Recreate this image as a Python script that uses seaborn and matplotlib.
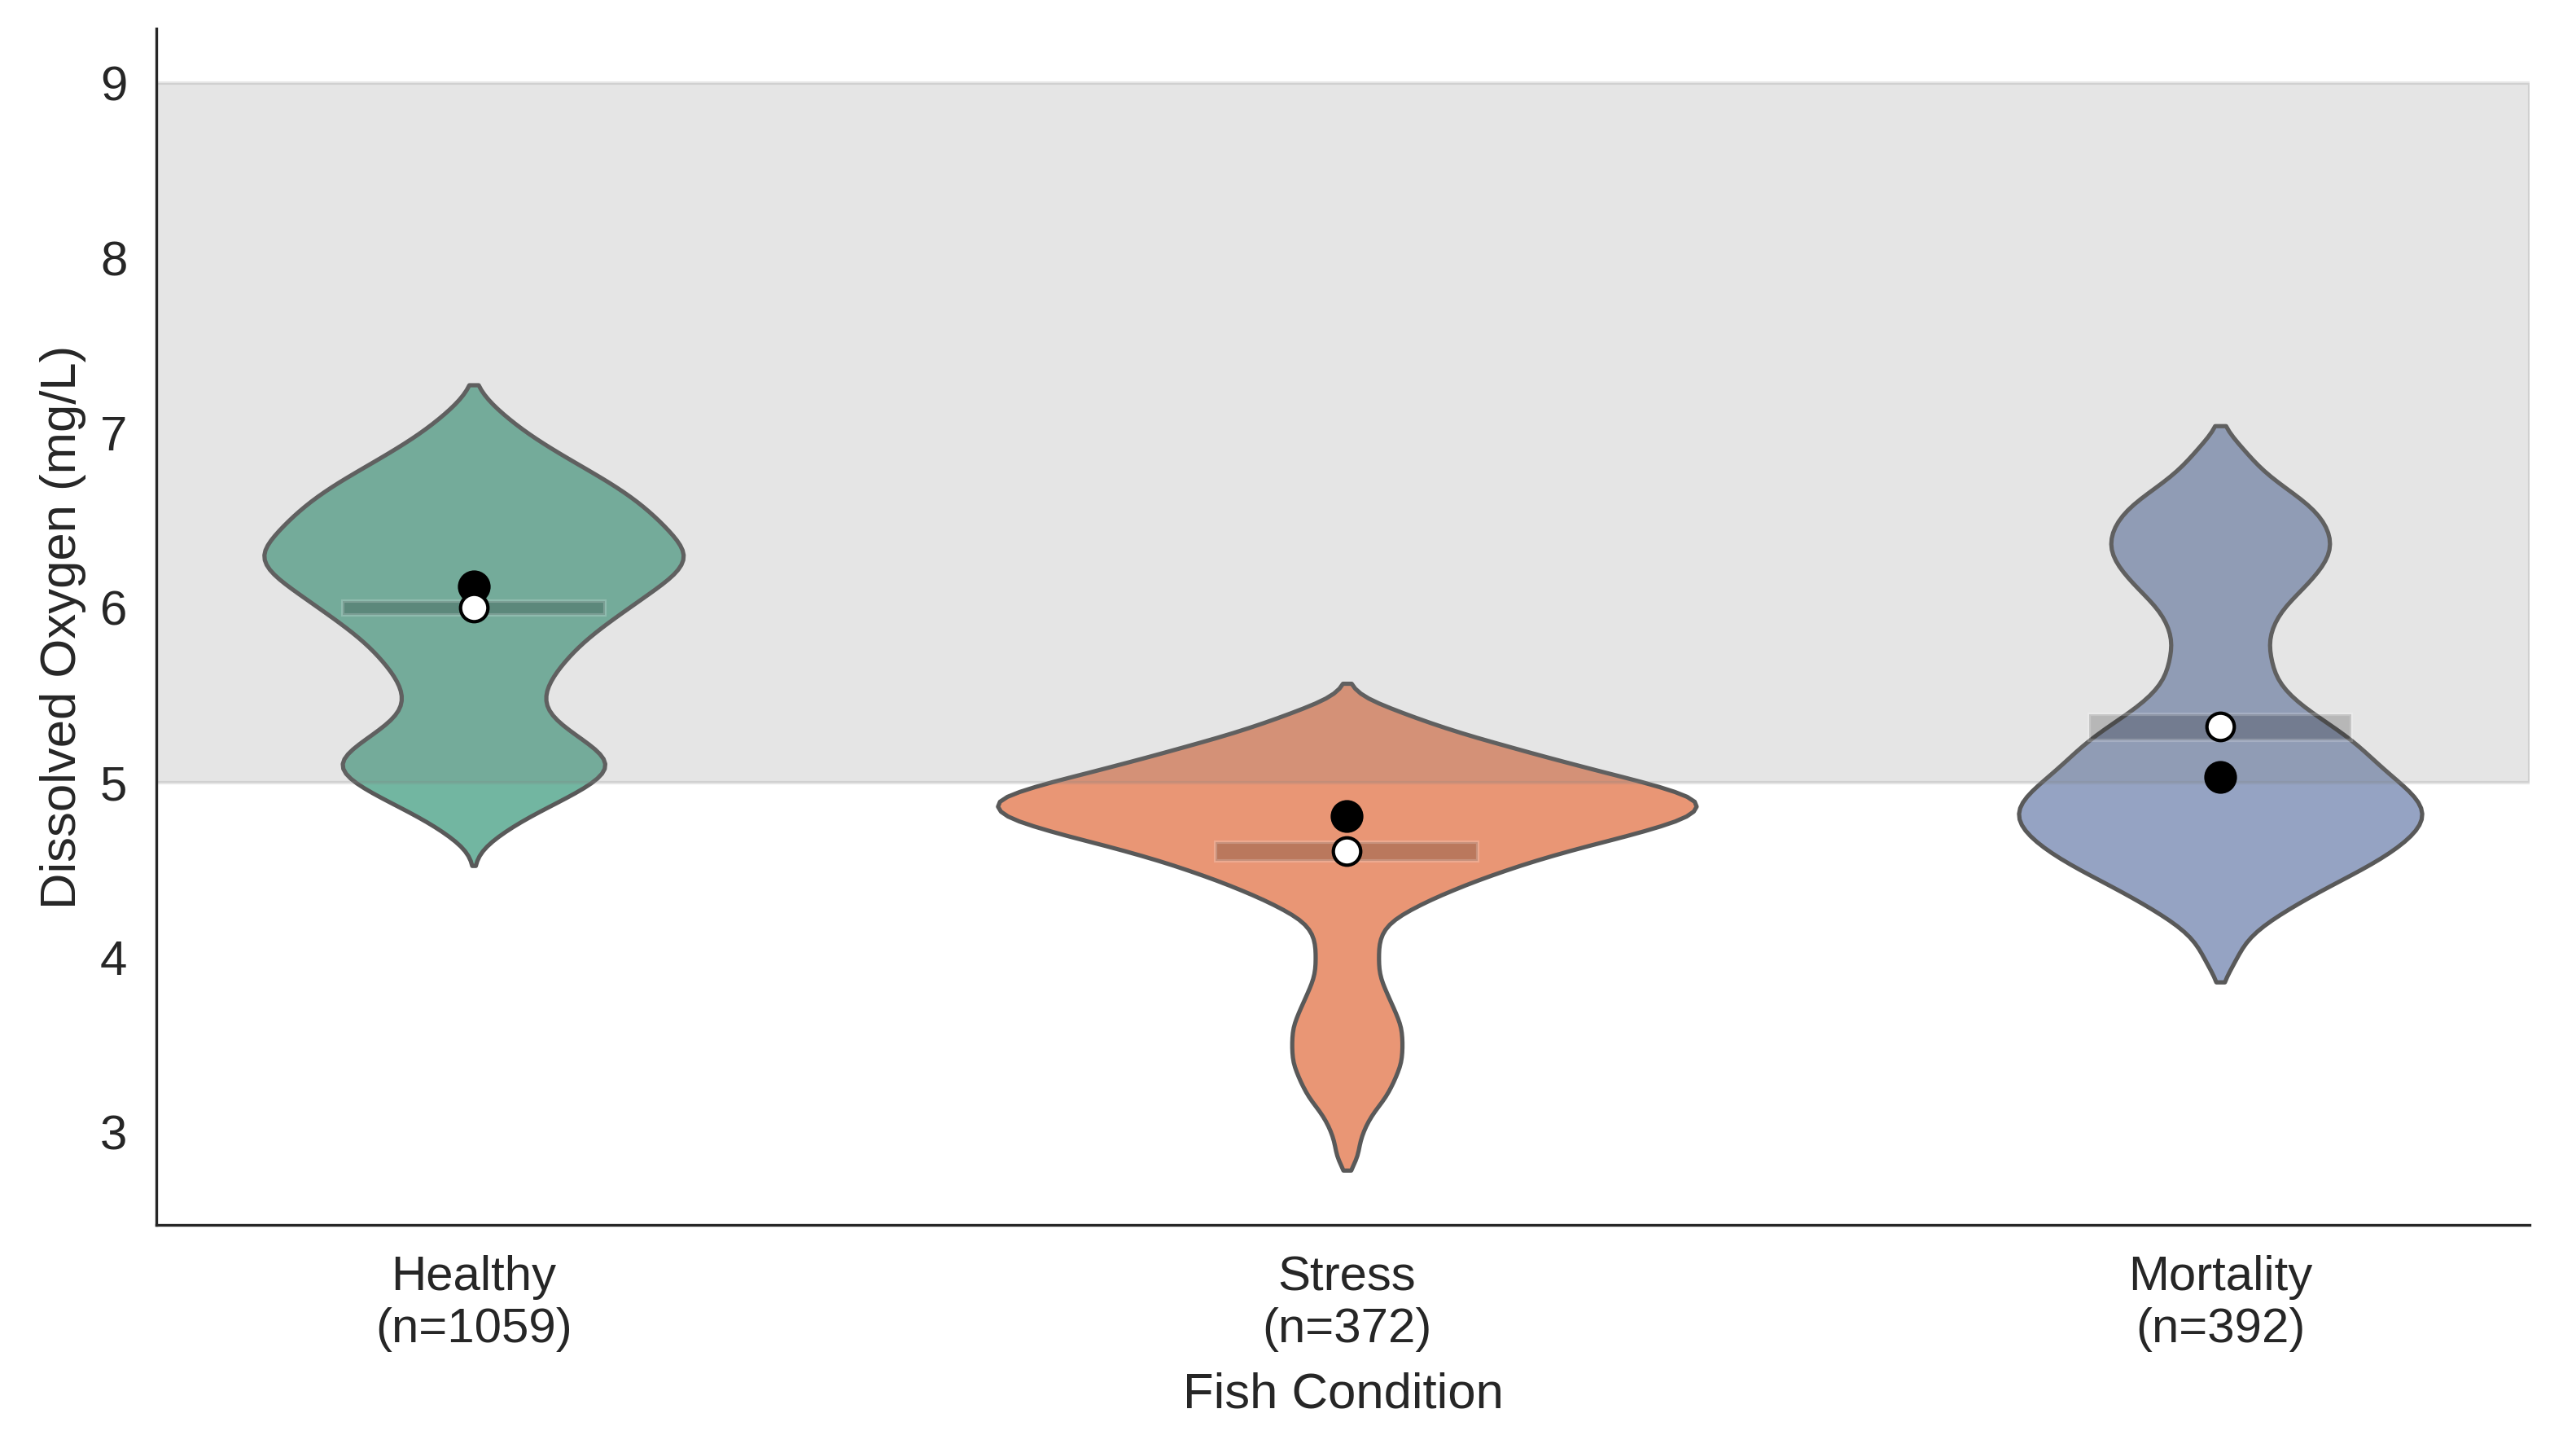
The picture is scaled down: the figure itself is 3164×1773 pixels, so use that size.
#!/usr/bin/env python3
"""
Dissolved oxygen by fish condition - violin plot
"""

import numpy as np
import pandas as pd
import matplotlib
matplotlib.use('Agg')  # Non-interactive backend
import matplotlib.pyplot as plt
import seaborn as sns

# Categories
conditions = ['Healthy', 'Stress', 'Mortality']
n_obs = [1059, 372, 392]

# Dissolved oxygen readings (mg/L), binned at 0.1 mg/L, with counts per bin
healthy_do = [4.6, 4.7, 4.8, 4.9, 5.0, 5.1, 5.2, 5.3, 5.4, 5.5, 5.6, 5.7, 5.8, 5.9,
              6.0, 6.1, 6.2, 6.3, 6.4, 6.5, 6.6, 6.7, 6.8, 6.9, 7.0, 7.1, 7.2]
healthy_counts = [1, 9, 19, 32, 44, 51, 44, 34, 26, 25, 28, 33, 39, 47,
                  56, 65, 74, 78, 73, 67, 60, 51, 40, 29, 19, 11, 4]

stress_do = [2.85, 2.9, 3.0, 3.1, 3.2, 3.3, 3.4, 3.5, 3.6, 3.7, 3.8, 3.9, 4.0, 4.1,
             4.2, 4.3, 4.4, 4.5, 4.6, 4.7, 4.8, 4.9, 5.0, 5.1, 5.2, 5.3, 5.4, 5.5]
stress_counts = [1, 1, 2, 3, 5, 6, 7, 7, 7, 6, 5, 4, 4, 4,
                 5, 9, 14, 20, 27, 36, 44, 46, 38, 29, 21, 13, 7, 1]

mortality_do = [3.95, 4.0, 4.1, 4.2, 4.3, 4.4, 4.5, 4.6, 4.7, 4.8, 4.9, 5.0, 5.1, 5.2,
                5.3, 5.4, 5.5, 5.6, 5.7, 5.8, 5.9, 6.0, 6.1, 6.2, 6.3, 6.4, 6.5, 6.6,
                6.7, 6.8, 6.9, 6.95]
mortality_counts = [1, 2, 3, 6, 10, 14, 19, 23, 26, 28, 27, 24, 21, 19,
                    16, 12, 9, 7, 7, 6, 7, 8, 11, 13, 15, 15, 14, 12,
                    8, 5, 3, 1]

# Summary statistics per condition
median_do = [6.12, 4.81, 5.03]
mean_do = [6.00, 4.61, 5.32]
ci_low = [5.96, 4.55, 5.24]
ci_high = [6.04, 4.66, 5.39]

# Normal dissolved oxygen range
normal_low, normal_high = 5, 9

sns.set_style('white')
plt.rcParams['font.family'] = ['Liberation Sans', 'DejaVu Sans']


def build_frame():
    frames = []
    for name, vals, counts in [('Healthy', healthy_do, healthy_counts),
                               ('Stress', stress_do, stress_counts),
                               ('Mortality', mortality_do, mortality_counts)]:
        frames.append(pd.DataFrame({'condition': name,
                                    'do': np.repeat(vals, counts)}))
    return pd.concat(frames, ignore_index=True)


def main():
    df = build_frame()

    fig, ax = plt.subplots(figsize=(10.547, 5.91), dpi=300)
    fig.subplots_adjust(left=0.0606, right=0.982, top=0.980, bottom=0.152)

    sns.violinplot(data=df, x='condition', y='do', hue='condition',
                   order=conditions, hue_order=conditions, palette='Set2',
                   inner=None, bw_method=0.12, cut=1, common_norm=True,
                   legend=False, ax=ax)

    # shaded normal range on top of violins
    ax.axhspan(normal_low, normal_high, color='gray', alpha=0.2)

    pos = np.arange(len(conditions))
    # 95% CI of the mean
    ax.bar(pos, np.array(ci_high) - np.array(ci_low), bottom=ci_low,
           width=0.3, color='black', alpha=0.2, zorder=3)
    ax.scatter(pos, median_do, s=75, color='black', zorder=4)
    ax.scatter(pos, mean_do, s=65, color='white', edgecolor='black',
               linewidth=1.0, zorder=5)

    # let x limits follow the drawn violins
    ax.autoscale(enable=True, axis='x')

    ax.set_xticks(pos)
    ax.set_xticklabels([f'{c}\n(n={n})' for c, n in zip(conditions, n_obs)])
    ax.set_xlabel('Fish Condition', fontsize=14.8, labelpad=6)
    ax.set_ylabel('Dissolved Oxygen (mg/L)', fontsize=14.8)
    ax.tick_params(axis='both', labelsize=14.4, length=0)
    ax.tick_params(axis='y', pad=8.5)
    ax.tick_params(axis='x', pad=9)
    sns.despine(ax=ax)

    fig.savefig('out.png', dpi=300)
    plt.close(fig)


if __name__ == '__main__':
    main()
